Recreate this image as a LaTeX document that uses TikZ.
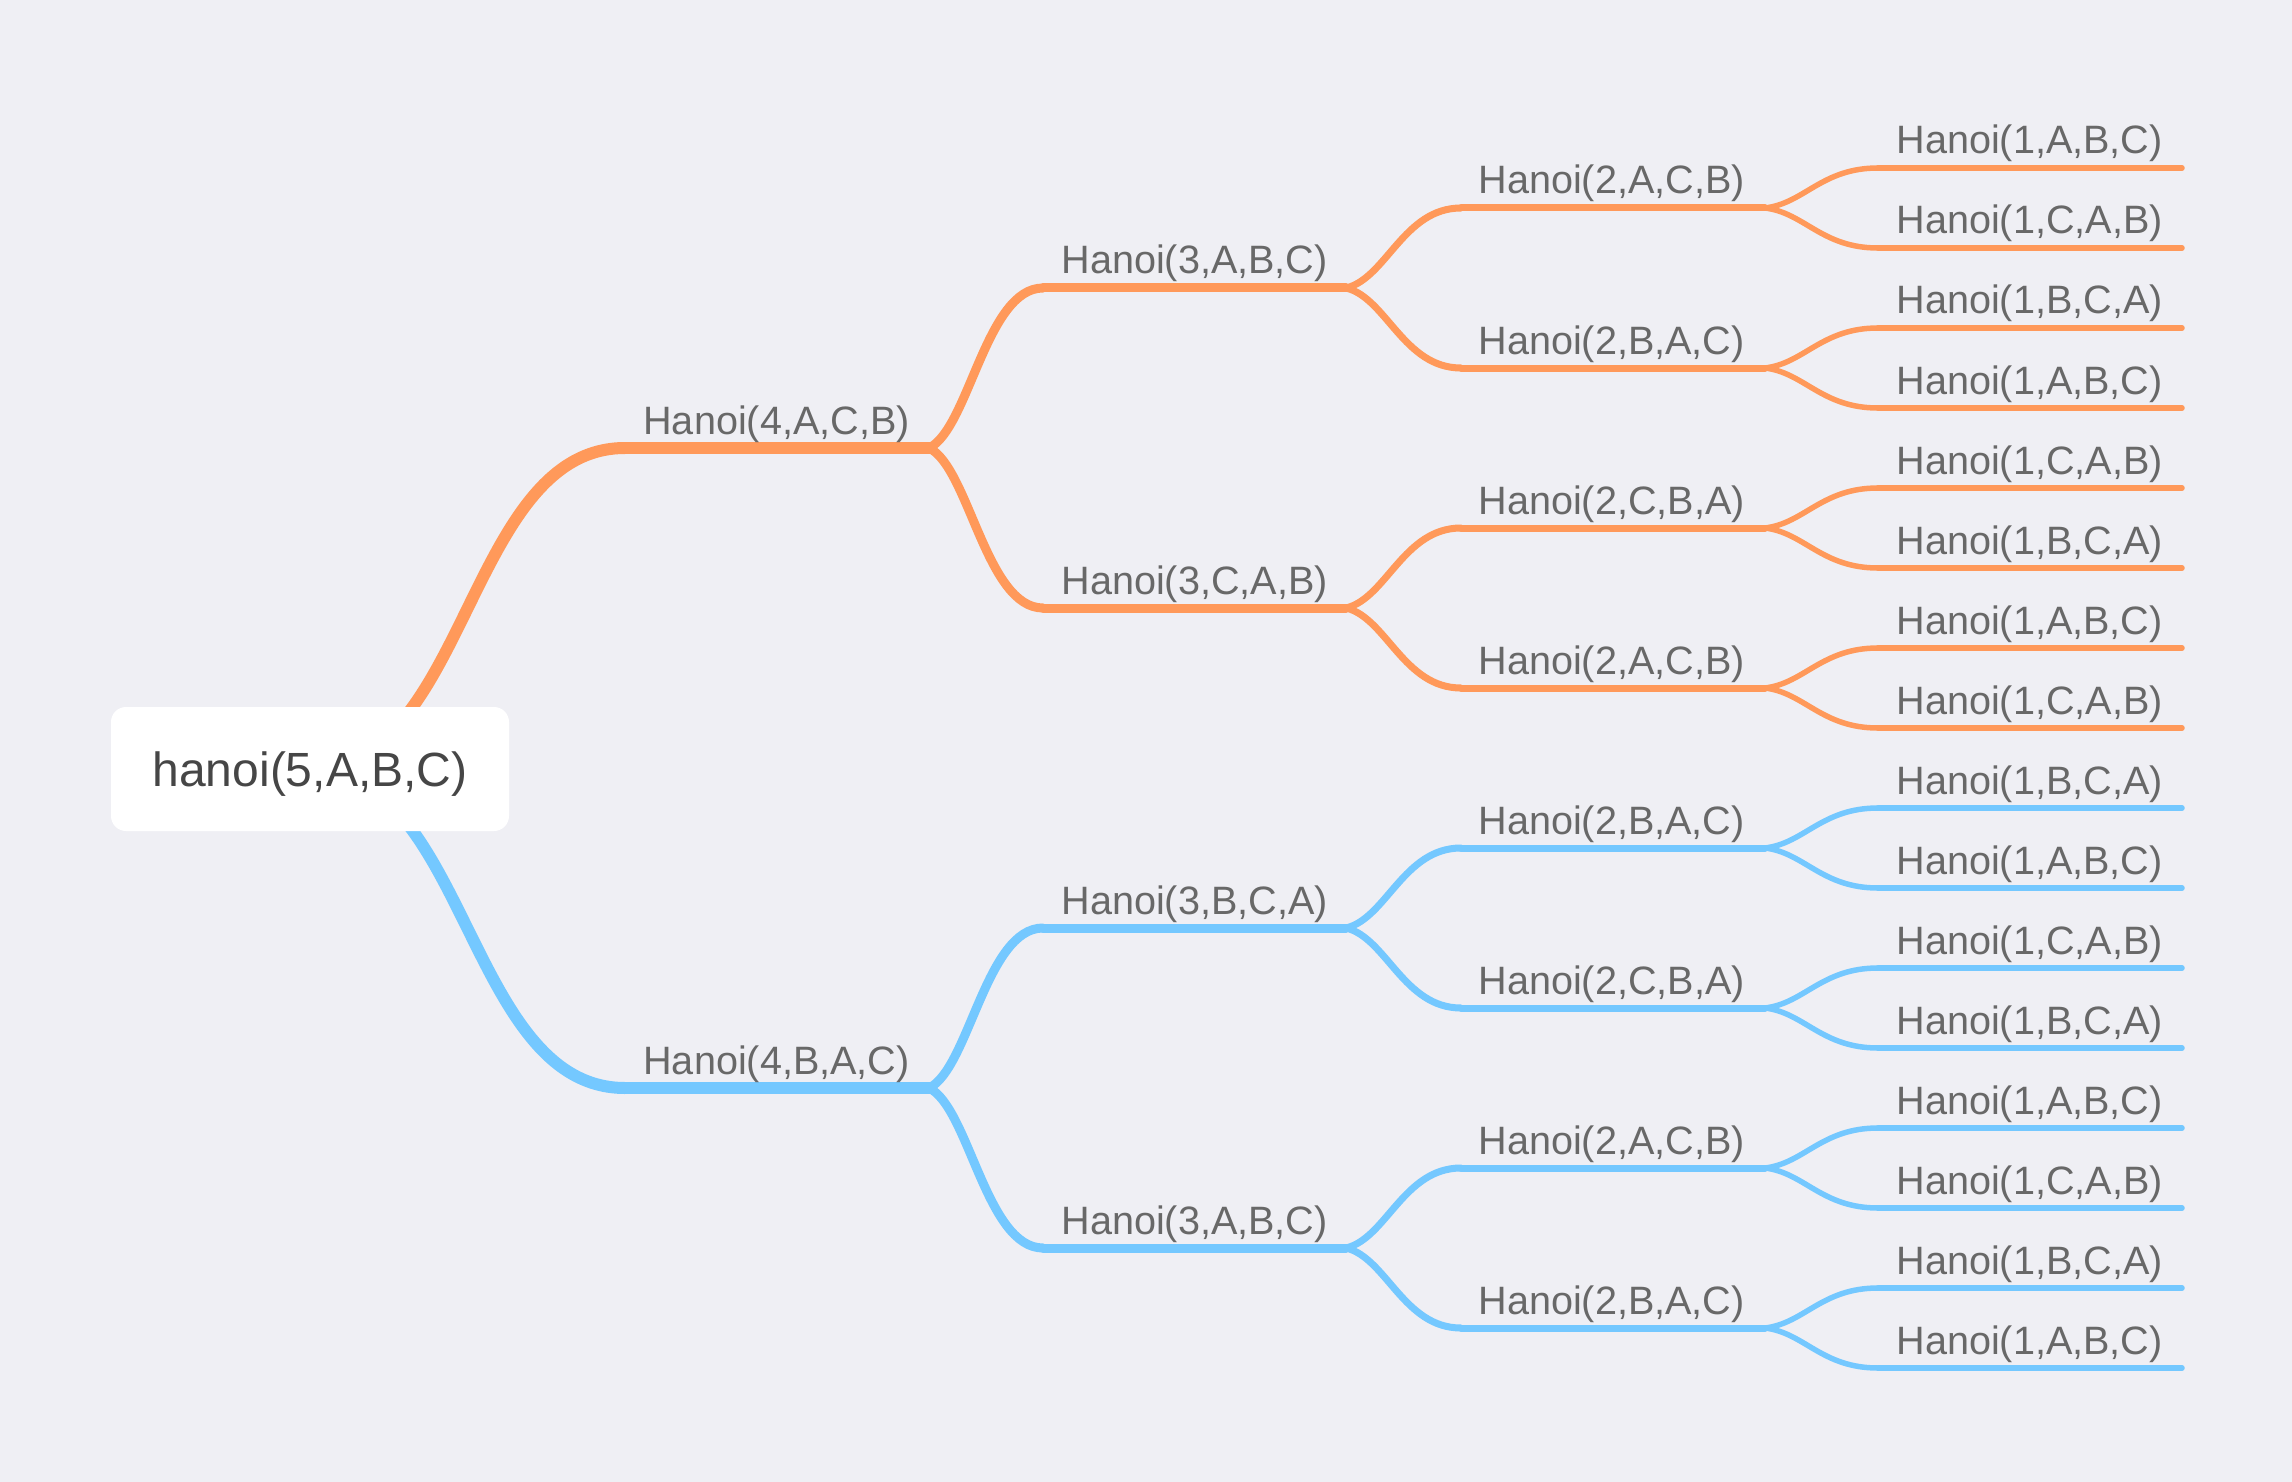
\documentclass[tikz,border=0pt]{standalone}
\usepackage{fontspec}
\setmainfont{Liberation Sans}
\usetikzlibrary{calc}
\definecolor{bg}{RGB}{239,239,244}
\definecolor{org}{RGB}{255,153,90}
\definecolor{blu}{RGB}{116,200,255}
\definecolor{lbl}{RGB}{104,104,104}
\definecolor{rtxt}{RGB}{70,70,70}
\newcommand\mmconn[3]{\draw[#3] let \p1=(#1),\p2=(#2) in (\p1) .. controls ({\x1+0.35*(\x2-\x1)},{\y1+0.12*(\y2-\y1)}) and ({\x2-0.5*(\x2-\x1)},\y2) .. (\p2);}
\newcommand\mmrootconn[3]{\draw[#3] let \p1=(#1),\p2=(#2) in (\p1) .. controls ({\x1+0.5*(\x2-\x1)},\y1) and ({\x2-0.5*(\x2-\x1)},\y2) .. (\p2);}
\begin{document}
\begin{tikzpicture}[x=0.5pt,y=-0.5pt,line cap=round,
  lab/.style={anchor=base west,inner sep=0pt,text=lbl,font=\fontsize{19.8}{23}\selectfont},
  wone/.style={line width=6pt},
  wtwo/.style={line width=4.5pt},
  wthree/.style={line width=3.5pt},
  wfour/.style={line width=2.75pt},
  rootbox/.style={fill=white,rounded corners=7.5pt,minimum width=199pt,minimum height=62pt,inner sep=0pt},
  roottext/.style={anchor=base,inner sep=0pt,text=rtxt,font=\fontsize{24}{28}\selectfont}]
\fill[bg] (0,0) rectangle (2292,1482);
\useasboundingbox (0,0) rectangle (2292,1482);
\coordinate (rc) at (310,769);
% level 1
\foreach \lab [count=\i] in {{Hanoi(4,A,C,B)},{Hanoi(4,B,A,C)}}{
  \ifnum\i>1 \def\cc{blu}\else\def\cc{org}\fi
  \pgfmathsetmacro\yy{448+640*(\i-1)}
  \coordinate (a\i s) at (625,\yy);
  \coordinate (a\i e) at (929,\yy);
  \mmrootconn{rc}{a\i s}{\cc,wone}
  \draw[\cc,wone] (a\i s) -- (a\i e);
  \node[lab] (a\i) at (643,\yy-14) {\lab};
}
% level 2
\foreach \lab [count=\i] in {{Hanoi(3,A,B,C)},{Hanoi(3,C,A,B)},{Hanoi(3,B,C,A)},{Hanoi(3,A,B,C)}}{
  \ifnum\i>2 \def\cc{blu}\else\def\cc{org}\fi
  \pgfmathsetmacro\yy{288+320*(\i-1)}
  \pgfmathtruncatemacro\pp{(\i+1)/2}
  \coordinate (b\i s) at (1043,\yy);
  \coordinate (b\i e) at (1346,\yy);
  \mmconn{a\pp e}{b\i s}{\cc,wtwo}
  \draw[\cc,wtwo] (b\i s) -- (b\i e);
  \node[lab] (b\i) at (1061,\yy-14) {\lab};
}
% level 3
\foreach \lab [count=\i] in {{Hanoi(2,A,C,B)},{Hanoi(2,B,A,C)},{Hanoi(2,C,B,A)},{Hanoi(2,A,C,B)},{Hanoi(2,B,A,C)},{Hanoi(2,C,B,A)},{Hanoi(2,A,C,B)},{Hanoi(2,B,A,C)}}{
  \ifnum\i>4 \def\cc{blu}\else\def\cc{org}\fi
  \pgfmathsetmacro\yy{208+160*(\i-1)}
  \pgfmathtruncatemacro\pp{(\i+1)/2}
  \coordinate (c\i s) at (1461,\yy);
  \coordinate (c\i e) at (1765,\yy);
  \mmconn{b\pp e}{c\i s}{\cc,wthree}
  \draw[\cc,wthree] (c\i s) -- (c\i e);
  \node[lab] (c\i) at (1478,\yy-14) {\lab};
}
% level 4
\foreach \lab [count=\i] in {{Hanoi(1,A,B,C)},{Hanoi(1,C,A,B)},{Hanoi(1,B,C,A)},{Hanoi(1,A,B,C)},{Hanoi(1,C,A,B)},{Hanoi(1,B,C,A)},{Hanoi(1,A,B,C)},{Hanoi(1,C,A,B)},{Hanoi(1,B,C,A)},{Hanoi(1,A,B,C)},{Hanoi(1,C,A,B)},{Hanoi(1,B,C,A)},{Hanoi(1,A,B,C)},{Hanoi(1,C,A,B)},{Hanoi(1,B,C,A)},{Hanoi(1,A,B,C)}}{
  \ifnum\i>8 \def\cc{blu}\else\def\cc{org}\fi
  \pgfmathsetmacro\yy{168+80*(\i-1)}
  \pgfmathtruncatemacro\pp{(\i+1)/2}
  \coordinate (d\i s) at (1878,\yy);
  \coordinate (d\i e) at (2182,\yy);
  \mmconn{c\pp e}{d\i s}{\cc,wfour}
  \draw[\cc,wfour] (d\i s) -- (d\i e);
  \node[lab] (d\i) at (1896,\yy-14) {\lab};
}
% root
\node[rootbox] (root) at (rc) {};
\node[roottext] (rootlabel) at (310,786) {hanoi(5,A,B,C)};
\end{tikzpicture}
\end{document}
